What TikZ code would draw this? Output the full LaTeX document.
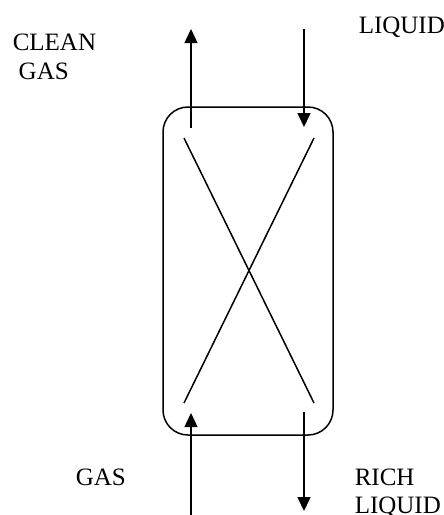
\documentclass[tikz,border=0pt]{standalone}
\usepackage{fontspec}
\setmainfont{Liberation Serif}
\usetikzlibrary{arrows.meta}
\begin{document}
\begin{tikzpicture}[x=1pt, y=-1pt, line width=1.5pt,
    flujo/.style={-{Triangle[length=14pt,width=13pt]}},
    rotulo/.style={anchor=base west, inner sep=0pt, font=\fontsize{25}{29}\selectfont}]
    \useasboundingbox (0,0) rectangle (444,515);
    % Columna
    \node[draw, rounded corners=25pt, minimum width=170pt, minimum height=328pt, inner sep=0pt] (columna) at (248,271) {};
    % Relleno (cruz)
    \coordinate (a1) at (184,138); \coordinate (a2) at (314,403);
    \coordinate (b1) at (314,138); \coordinate (b2) at (184,403);
    \draw (a1) -- (a2);
    \draw (b1) -- (b2);
    % Corrientes
    \coordinate (gassale) at (191,128); \coordinate (gasarriba) at (191,29);
    \coordinate (liqarriba) at (304,29); \coordinate (liqentra) at (304,127);
    \coordinate (gasabajo) at (191,515); \coordinate (gasentra) at (191,413);
    \coordinate (ricosale) at (304,412); \coordinate (ricoabajo) at (304,511);
    \draw[flujo] (gassale) -- (gasarriba);
    \draw[flujo] (liqarriba) -- (liqentra);
    \draw[flujo] (gasabajo) -- (gasentra);
    \draw[flujo] (ricosale) -- (ricoabajo);
    % Rotulos
    \node[rotulo] (clean) at (12,50) {CLEAN};
    \node[rotulo] (cleangas) at (18,79) {GAS};
    \node[rotulo] (liquid) at (358,33) {LIQUID};
    \node[rotulo] (gas) at (75,485) {GAS};
    \node[rotulo] (rich) at (354,485) {RICH};
    \node[rotulo] (richliquid) at (354,513) {LIQUID};
\end{tikzpicture}
\end{document}
